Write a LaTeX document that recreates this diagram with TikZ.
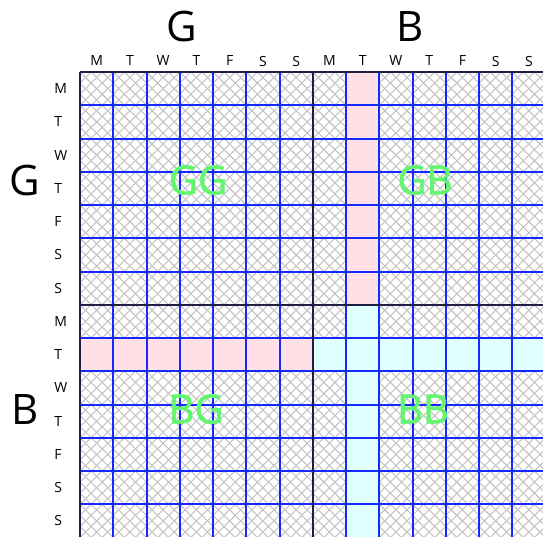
\documentclass[tikz,border=0pt]{standalone}
\usepackage{fontspec}
\setmainfont{Open Sans}
\newfontfamily\quadfont[FakeBold=1.6]{Open Sans}
\definecolor{pinkc}{RGB}{255,224,230}
\definecolor{cyanc}{RGB}{224,255,255}
\definecolor{quadgreen}{RGB}{100,245,110}
\definecolor{hatchgray}{RGB}{196,196,196}
\definecolor{blockdark}{RGB}{30,30,70}
\definecolor{gridblue}{RGB}{20,40,255}
\begin{document}
\begin{tikzpicture}[x=0.75pt,y=-0.75pt,
  hatch/.style={draw=hatchgray, line width=0.8pt},
  gridline/.style={draw=gridblue, line width=1.5pt},
  blockline/.style={draw=blockdark, line width=1.5pt},
  biglab/.style={inner sep=0pt, font=\fontsize{31.5}{32}\selectfont},
  quadlab/.style={inner sep=0pt, text=quadgreen, font=\quadfont\fontsize{30}{30}\selectfont},
  daylab/.style={inner sep=0pt, font=\fontsize{10.5}{11}\selectfont}]
\useasboundingbox (0,0) rectangle (543,536);
\def\cs{33.25}
\begin{scope}
  \clip (80,72) rectangle (543,536);
  \foreach \k in {-45,...,90} {
    \draw[hatch] (80+\k*\cs/3,72) -- ++(470,470);
    \draw[hatch] (80+\k*\cs/3,72) -- ++(-470,470);
  }
  \fill[pinkc] (346,72) rectangle (379,305);
  \fill[pinkc] (80,338) rectangle (313,371);
  \fill[cyanc] (346,305) rectangle (379,540);
  \fill[cyanc] (313,338) rectangle (546,371);
  \foreach \i in {1,...,14} {
    \pgfmathsetmacro\xx{round(80+\i*\cs)}
    \pgfmathsetmacro\yy{round(72+\i*\cs)}
    \draw[gridline] (\xx,72) -- (\xx,540);
    \draw[gridline] (80,\yy) -- (546,\yy);
  }
\end{scope}
\draw[blockline] (80,72) -- (80,540);
\draw[blockline] (313,72) -- (313,540);
\draw[blockline] (80,72) -- (546,72);
\draw[blockline] (80,305) -- (546,305);
\foreach \d [count=\i from 0] in {M,T,W,T,F,S,S,M,T,W,T,F,S,S} {
  \node[daylab] (c\i) at (80+\i*\cs+\cs/2,61) {\d};
  \node[daylab, anchor=west] (r\i) at (54,72+\i*\cs+\cs/2) {\d};
}
\node[biglab] (topG) at (181.5,26.5) {G};
\node[biglab] (topB) at (410,26.5) {B};
\node[biglab] (leftG) at (25,180) {G};
\node[biglab] (leftB) at (25,410) {B};
\node[quadlab] (GG) at (198,180) {GG};
\node[quadlab] (GB) at (425,180) {GB};
\node[quadlab] (BG) at (196,409) {BG};
\node[quadlab] (BB) at (423,409) {BB};
\end{tikzpicture}
\end{document}
